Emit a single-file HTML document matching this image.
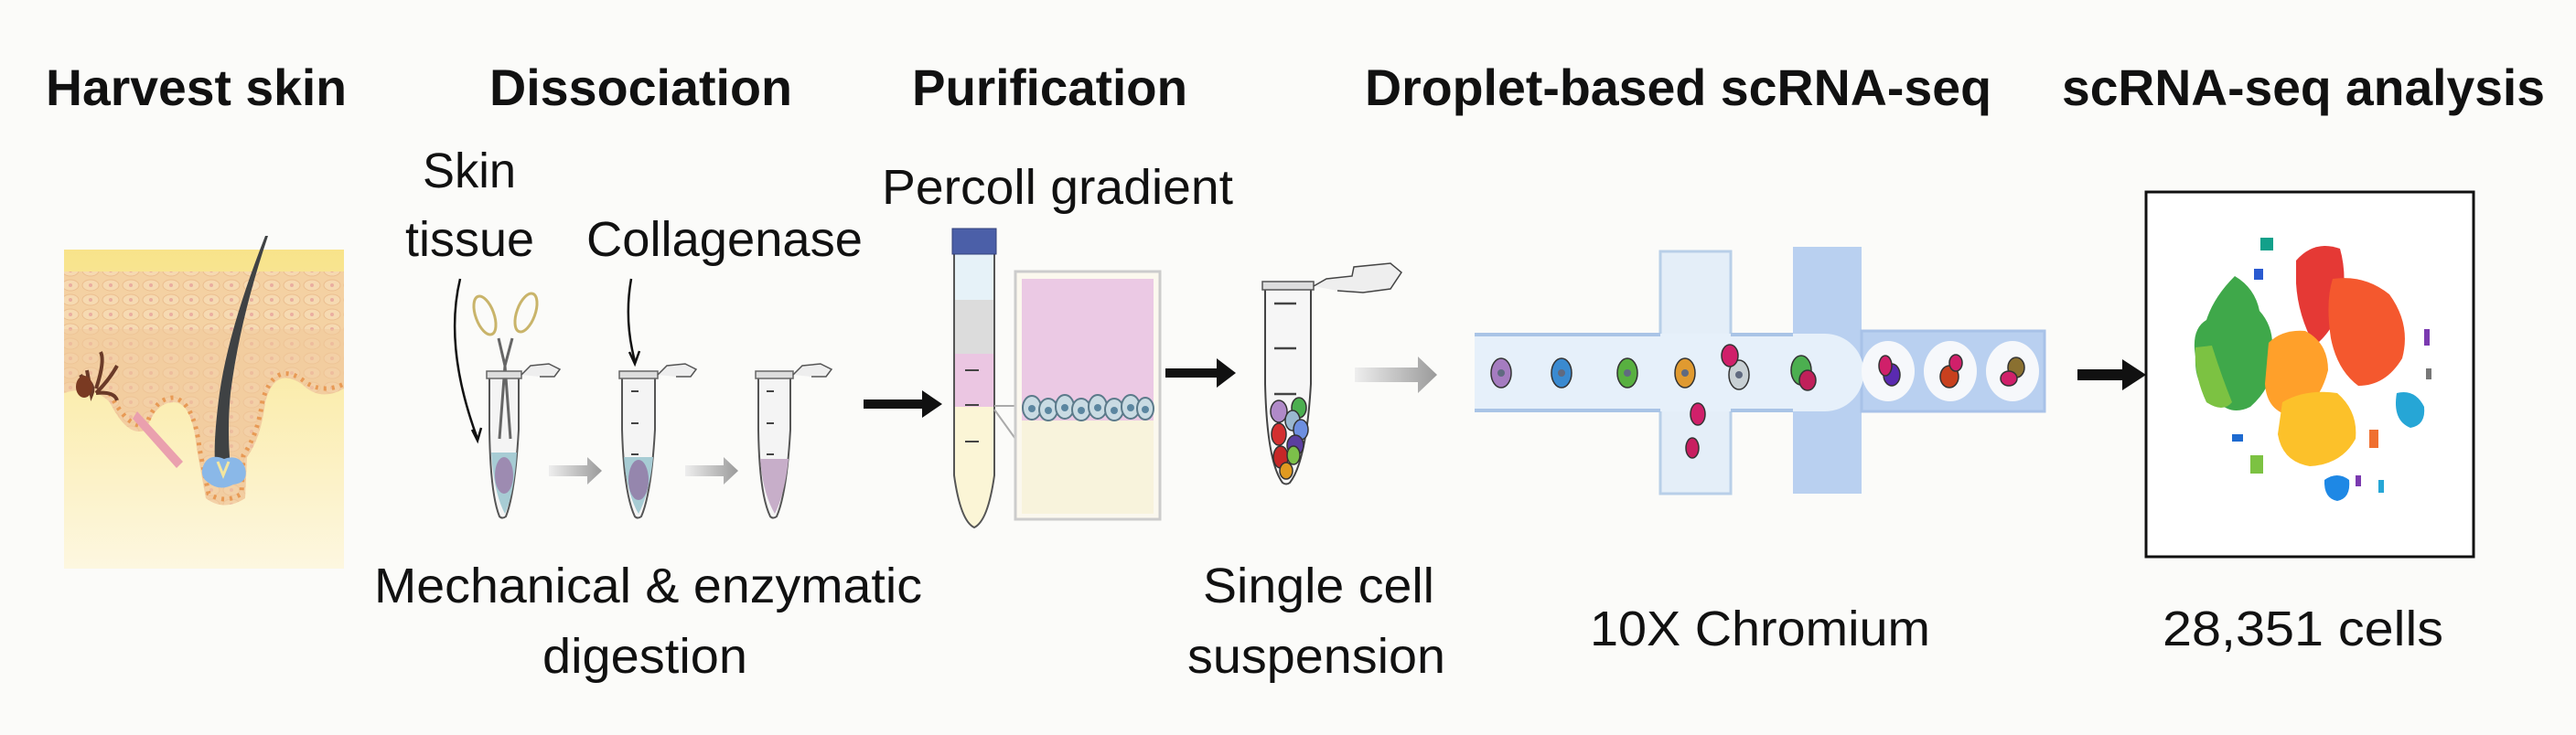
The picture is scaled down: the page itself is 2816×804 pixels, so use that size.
<!DOCTYPE html>
<html><head><meta charset="utf-8"><style>
html,body{margin:0;padding:0;background:#fbfbf9;}
svg{display:block;}
text{font-family:"Liberation Sans",Arial,sans-serif;fill:#111;}
.t{font-weight:bold;font-size:56px;}
.l{font-size:54px;}
</style></head><body>
<svg width="2816" height="804" viewBox="0 0 2816 804" xmlns="http://www.w3.org/2000/svg">
<defs>
<linearGradient id="sk" x1="0" y1="0" x2="0" y2="1">
<stop offset="0" stop-color="#f8e38a"/><stop offset="0.5" stop-color="#fbeeb4"/><stop offset="1" stop-color="#fdf7e0"/></linearGradient>
<linearGradient id="ga" x1="0" y1="0" x2="1" y2="0">
<stop offset="0" stop-color="#eee"/><stop offset="1" stop-color="#9a9a9a"/></linearGradient>
<pattern id="cells" width="22" height="16" patternUnits="userSpaceOnUse">
<rect width="22" height="16" fill="#f3cfa4"/><ellipse cx="11" cy="8" rx="9" ry="6" fill="#f6d8b4" stroke="#e9b98e" stroke-width="1"/><circle cx="11" cy="8" r="2" fill="#e8a8a0"/></pattern>
</defs>
<rect width="2816" height="804" fill="#fbfbf9"/>

<text class="t" x="50" y="115" textLength="329" lengthAdjust="spacingAndGlyphs">Harvest skin</text>
<text class="t" x="535" y="115" textLength="331" lengthAdjust="spacingAndGlyphs">Dissociation</text>
<text class="t" x="997" y="115" textLength="301" lengthAdjust="spacingAndGlyphs">Purification</text>
<text class="t" x="1492" y="115" textLength="685" lengthAdjust="spacingAndGlyphs">Droplet-based scRNA-seq</text>
<text class="t" x="2254" y="115" textLength="528" lengthAdjust="spacingAndGlyphs">scRNA-seq analysis</text>

<!-- Skin panel -->
<rect x="70" y="273" width="306" height="349" fill="url(#sk)"/>
<path d="M70 297 L376 297 L376 425 Q350 440 330 420 Q300 400 290 440 Q285 480 270 500 L268 545 Q245 560 225 545 L215 490 Q210 440 190 440 Q170 440 160 470 Q140 480 120 440 Q100 420 70 430 Z" fill="url(#cells)" opacity="0.9"/>
<path d="M70 360 L376 360 L376 425 Q350 440 330 420 Q300 400 290 440 Q285 480 270 500 L268 545 Q245 560 225 545 L215 490 Q210 440 190 440 Q170 440 160 470 Q140 480 120 440 Q100 420 70 430 Z" fill="#f1c89a" opacity="0.55"/>
<path d="M120 430 Q140 470 160 465 Q170 435 190 435 Q212 440 218 490 L228 540 Q246 552 264 540 L266 498 Q282 475 287 438 Q300 395 330 415 Q350 432 376 420" fill="none" stroke="#e89a55" stroke-width="5" stroke-dasharray="3 6"/>
<path d="M90 412 Q105 420 100 432 L95 405 M100 432 L88 410 M105 425 Q115 395 110 385 M105 430 Q120 415 128 400 M105 430 Q125 428 128 438" stroke="#6a3a28" stroke-width="4" fill="none"/>
<ellipse cx="92" cy="423" rx="9" ry="12" fill="#7a3a22"/>
<path d="M150 450 L200 505 L193 512 L145 458 Z" fill="#eaa0ae"/>
<path d="M290 258 Q250 360 240 430 Q232 490 236 515 L252 512 Q248 470 252 430 Q262 350 293 258 Z" fill="#3f4244"/>
<path d="M222 510 Q228 495 245 502 Q262 496 268 512 Q272 528 255 530 Q240 538 228 528 Q218 522 222 510 Z" fill="#8ab8e8"/>
<path d="M238 505 L244 520 L250 505" stroke="#f3e6a0" stroke-width="3" fill="none"/>

<text class="l" x="462" y="205" textLength="102" lengthAdjust="spacingAndGlyphs">Skin</text>
<text class="l" x="443" y="280" textLength="141" lengthAdjust="spacingAndGlyphs">tissue</text>
<text class="l" x="641" y="280" textLength="302" lengthAdjust="spacingAndGlyphs">Collagenase</text>
<path d="M503 305 Q485 380 522 480" stroke="#111" stroke-width="2.5" fill="none"/>
<path d="M516 470 L522 482 L526 468" stroke="#111" stroke-width="2.5" fill="none"/>
<path d="M690 305 Q682 350 694 395" stroke="#111" stroke-width="2.5" fill="none"/>
<path d="M688 385 L694 398 L699 384" stroke="#111" stroke-width="2.5" fill="none"/>

<!-- tube 1 with scissors -->
<g>
<path d="M535 412 L567 412 L567 470 Q563 540 553 565 Q549 568 546 565 Q536 540 535 470 Z" fill="#f4f4f4" stroke="#555" stroke-width="2"/>
<path d="M537 495 L565 495 Q562 540 552 562 Q540 540 537 495 Z" fill="#a7ccd4"/>
<ellipse cx="551" cy="520" rx="10" ry="20" fill="#9b7aa8" opacity="0.8"/>
<path d="M546 480 L552 400 L545 370 M558 480 L552 400 L560 370" stroke="#666" stroke-width="3" fill="none"/>
<rect x="532" y="406" width="38" height="8" fill="#ddd" stroke="#666" stroke-width="1.5"/>
<path d="M570 410 L580 400 L600 398 L612 404 L606 412 L590 412" fill="#eee" stroke="#555" stroke-width="1.5"/>
<ellipse cx="530" cy="345" rx="10" ry="22" fill="none" stroke="#c9b46a" stroke-width="3" transform="rotate(-20 530 345)"/>
<ellipse cx="575" cy="342" rx="10" ry="22" fill="none" stroke="#c9b46a" stroke-width="3" transform="rotate(20 575 342)"/>
</g>
<g>
<path d="M680 412 L716 412 L716 470 Q712 540 701 565 Q697 568 694 565 Q682 540 680 470 Z" fill="#f4f4f4" stroke="#555" stroke-width="2"/>
<path d="M682 500 L714 500 Q710 540 698 562 Q685 540 682 500 Z" fill="#a7ccd4"/>
<ellipse cx="698" cy="525" rx="11" ry="22" fill="#8f6fa0" opacity="0.75"/>
<rect x="677" y="406" width="42" height="8" fill="#ddd" stroke="#666" stroke-width="1.5"/>
<path d="M719 410 L729 400 L749 398 L761 404 L755 412 L739 412" fill="#eee" stroke="#555" stroke-width="1.5"/>
<path d="M690 428 H698 M690 463 H698 M690 497 H698" stroke="#444" stroke-width="2"/>
</g>
<g>
<path d="M829 412 L864 412 L864 470 Q860 540 849 565 Q845 568 842 565 Q830 540 829 470 Z" fill="#f4f4f4" stroke="#555" stroke-width="2"/>
<path d="M831 502 L862 502 Q858 540 847 562 Q834 540 831 502 Z" fill="#c7aec9"/>
<rect x="826" y="406" width="41" height="8" fill="#ddd" stroke="#666" stroke-width="1.5"/>
<path d="M867 410 L877 400 L897 398 L909 404 L903 412 L887 412" fill="#eee" stroke="#555" stroke-width="1.5"/>
<path d="M838 428 H846 M838 463 H846 M838 497 H846" stroke="#444" stroke-width="2"/>
</g>
<path d="M600 509 H642 V500 L658 515 L642 530 V521 H600 Z" fill="url(#ga)"/>
<path d="M749 509 H791 V500 L807 515 L791 530 V521 H749 Z" fill="url(#ga)"/>
<path d="M944 437 H1008 V427 L1030 442 L1008 457 V447 H944 Z" fill="#111"/>

<text class="l" x="409" y="659" textLength="599" lengthAdjust="spacingAndGlyphs">Mechanical &amp; enzymatic</text>
<text class="l" x="593" y="736" textLength="224" lengthAdjust="spacingAndGlyphs">digestion</text>

<text class="l" x="964" y="223" textLength="384" lengthAdjust="spacingAndGlyphs">Percoll gradient</text>
<path d="M1043 278 H1087 V328 H1043 Z" fill="#e6f2f8"/>
<path d="M1043 328 H1087 V387 H1043 Z" fill="#dcdcdc"/>
<path d="M1043 387 H1087 V445 H1043 Z" fill="#ebc6e2"/>
<path d="M1043 445 H1087 V520 Q1080 570 1065 577 Q1050 570 1043 520 Z" fill="#fbf5d6"/>
<path d="M1043 278 V520 Q1050 570 1065 577 Q1080 570 1087 520 V278" fill="none" stroke="#555" stroke-width="2"/>
<rect x="1041" y="250" width="48" height="28" fill="#4b5fa8" stroke="#33407a"/>
<path d="M1055 405 H1070 M1055 443 H1070 M1055 483 H1070" stroke="#444" stroke-width="2"/>
<path d="M1087 444 L1110 444 M1087 448 L1110 480" stroke="#aaa" stroke-width="2"/>
<rect x="1110" y="297" width="158" height="271" fill="#fbf8ee" stroke="#ccc" stroke-width="3"/>
<rect x="1117" y="305" width="144" height="155" fill="#ebc9e4"/>
<rect x="1117" y="460" width="144" height="102" fill="#f8f3dc"/>
<g fill="#c9dbe3" stroke="#5b7a8a" stroke-width="2">
<ellipse cx="1128" cy="446" rx="10" ry="13"/><ellipse cx="1146" cy="448" rx="10" ry="12"/><ellipse cx="1164" cy="445" rx="10" ry="13"/><ellipse cx="1182" cy="448" rx="10" ry="12"/><ellipse cx="1200" cy="445" rx="10" ry="13"/><ellipse cx="1218" cy="448" rx="10" ry="12"/><ellipse cx="1236" cy="445" rx="10" ry="13"/><ellipse cx="1252" cy="447" rx="9" ry="12"/>
</g>
<g fill="#5b86a0"><circle cx="1128" cy="447" r="4"/><circle cx="1146" cy="449" r="4"/><circle cx="1164" cy="446" r="4"/><circle cx="1182" cy="449" r="4"/><circle cx="1200" cy="446" r="4"/><circle cx="1218" cy="449" r="4"/><circle cx="1236" cy="446" r="4"/><circle cx="1252" cy="448" r="4"/></g>
<path d="M1274 403 H1330 V392 L1351 408 L1330 424 V413 H1274 Z" fill="#111"/>

<path d="M1383 315 L1433 315 L1433 420 Q1428 505 1410 528 Q1406 531 1402 528 Q1385 505 1383 420 Z" fill="#f6f6f6" stroke="#444" stroke-width="2"/>
<rect x="1380" y="308" width="56" height="9" fill="#ddd" stroke="#555" stroke-width="1.5"/>
<path d="M1436 313 L1450 305 L1478 302 L1480 292 L1520 288 L1532 298 L1520 316 L1490 320 L1462 318" fill="#eee" stroke="#444" stroke-width="1.5"/>
<path d="M1393 332 H1417 M1393 381 H1417 M1393 431 H1417" stroke="#444" stroke-width="2.5"/>
<g stroke="#333" stroke-width="1.5">
<ellipse cx="1398" cy="450" rx="9" ry="12" fill="#b08ac8"/><ellipse cx="1420" cy="446" rx="8" ry="11" fill="#4caf50"/><ellipse cx="1413" cy="460" rx="8" ry="11" fill="#9ab8d0"/><ellipse cx="1422" cy="470" rx="8" ry="11" fill="#6d8fe0"/>
<ellipse cx="1398" cy="475" rx="8" ry="12" fill="#d32f2f"/><ellipse cx="1416" cy="487" rx="9" ry="11" fill="#5b3fa0"/><ellipse cx="1400" cy="500" rx="8" ry="12" fill="#c62828"/><ellipse cx="1414" cy="498" rx="7" ry="10" fill="#7cc04a"/><ellipse cx="1406" cy="515" rx="7" ry="9" fill="#e09a20"/>
</g>
<text class="l" x="1315" y="659" textLength="253" lengthAdjust="spacingAndGlyphs">Single cell</text>
<text class="l" x="1298" y="736" textLength="282" lengthAdjust="spacingAndGlyphs">suspension</text>
<path d="M1481 402 H1550 V390 L1571 410 L1550 430 V418 H1481 Z" fill="url(#ga)"/>

<rect x="1815" y="275" width="77" height="265" fill="#e4eef8" stroke="#b8cfe8" stroke-width="3"/>
<rect x="1960" y="270" width="75" height="270" fill="#b9d0f0"/>
<rect x="2035" y="362" width="200" height="88" fill="#b9d0f0" stroke="#a8c2e8" stroke-width="3"/>
<path d="M1612 365 H1995 A42 42 0 0 1 1995 450 H1612 Z" fill="#e6f0fa"/>
<path d="M1612 366 H1815 M1892 366 H1960 M1612 449 H1815 M1892 449 H1960" stroke="#a9c4e6" stroke-width="4"/>
<rect x="1817" y="368" width="73" height="80" fill="#e6f0fa"/>
<g stroke="#333" stroke-width="1.5">
<ellipse cx="1641" cy="408" rx="11" ry="16" fill="#a57cc0"/><ellipse cx="1707" cy="408" rx="11" ry="16" fill="#3a8ad0"/><ellipse cx="1779" cy="408" rx="11" ry="16" fill="#58b040"/><ellipse cx="1842" cy="408" rx="11" ry="16" fill="#e09a30"/><ellipse cx="1901" cy="410" rx="11" ry="16" fill="#c8d0d4"/><ellipse cx="1969" cy="405" rx="11" ry="16" fill="#4caf50"/>
<ellipse cx="1891" cy="389" rx="9" ry="12" fill="#d0206a"/><ellipse cx="1976" cy="416" rx="9" ry="11" fill="#c0205a"/><ellipse cx="1856" cy="453" rx="8" ry="12" fill="#d0206a"/><ellipse cx="1850" cy="490" rx="7" ry="11" fill="#c81e60"/>
</g>
<g fill="#606a80"><circle cx="1641" cy="408" r="4"/><circle cx="1707" cy="408" r="4"/><circle cx="1779" cy="408" r="4"/><circle cx="1842" cy="408" r="4"/><circle cx="1901" cy="410" r="4"/></g>
<g fill="#f6f8fb"><ellipse cx="2064" cy="406" rx="29" ry="33"/><ellipse cx="2132" cy="406" rx="29" ry="33"/><ellipse cx="2200" cy="406" rx="29" ry="33"/></g>
<g stroke="#333" stroke-width="1.5">
<ellipse cx="2068" cy="410" rx="9" ry="12" fill="#5a2ab0"/><ellipse cx="2061" cy="400" rx="7" ry="11" fill="#d0206a"/>
<ellipse cx="2131" cy="412" rx="10" ry="12" fill="#c8401e"/><ellipse cx="2138" cy="397" rx="7" ry="9" fill="#d0206a"/>
<ellipse cx="2204" cy="402" rx="9" ry="11" fill="#8a7030"/><ellipse cx="2196" cy="414" rx="9" ry="8" fill="#d0206a"/>
</g>
<text class="l" x="1738" y="706" textLength="372" lengthAdjust="spacingAndGlyphs">10X Chromium</text>

<path d="M2271 404 H2320 V393 L2346 410 L2320 427 V416 H2271 Z" fill="#111"/>
<rect x="2346" y="210" width="358" height="399" fill="#fff" stroke="#111" stroke-width="3"/>
<g>
<path d="M2443 302 Q2465 315 2470 340 Q2488 360 2483 390 Q2488 420 2460 445 Q2440 455 2425 440 Q2398 425 2400 390 Q2395 360 2412 350 Q2420 325 2443 302 Z" fill="#3fa84a"/>
<path d="M2400 380 Q2398 410 2412 440 Q2430 452 2440 440 Q2428 410 2418 378 Z" fill="#7cc242"/>
<path d="M2510 285 Q2530 262 2558 272 Q2566 300 2560 335 Q2548 365 2530 378 Q2512 345 2510 310 Z" fill="#e53935"/>
<path d="M2550 305 Q2585 300 2612 322 Q2636 355 2626 392 Q2608 422 2578 422 Q2555 405 2548 370 Q2542 330 2550 305 Z" fill="#f4582e"/>
<path d="M2480 375 Q2495 360 2520 362 Q2545 375 2545 405 Q2535 445 2505 455 Q2478 450 2476 420 Z" fill="#ffa02a"/>
<path d="M2495 440 Q2520 425 2555 430 Q2578 450 2575 480 Q2560 508 2525 510 Q2495 505 2490 475 Z" fill="#fcc12a"/>
<path d="M2620 430 Q2640 425 2650 445 Q2652 465 2635 468 Q2615 460 2620 430 Z" fill="#26a6d6"/>
<path d="M2541 525 Q2555 515 2568 525 Q2570 545 2555 548 Q2540 545 2541 525 Z" fill="#1e88e5"/>
<rect x="2471" y="260" width="14" height="14" fill="#12a08a"/>
<rect x="2464" y="294" width="10" height="12" fill="#2a5ad0"/>
<rect x="2650" y="360" width="6" height="18" fill="#7b3ab0"/>
<rect x="2652" y="403" width="6" height="12" fill="#777"/>
<rect x="2440" y="475" width="12" height="8" fill="#1e6ad0"/>
<rect x="2460" y="498" width="14" height="20" fill="#7cc242"/>
<rect x="2590" y="470" width="10" height="20" fill="#f07030"/>
<rect x="2575" y="520" width="6" height="12" fill="#7b3ab0"/>
<rect x="2600" y="525" width="6" height="14" fill="#26a6d6"/>
</g>
<text class="l" x="2364" y="706" textLength="307" lengthAdjust="spacingAndGlyphs">28,351 cells</text>
</svg>
</body></html>
